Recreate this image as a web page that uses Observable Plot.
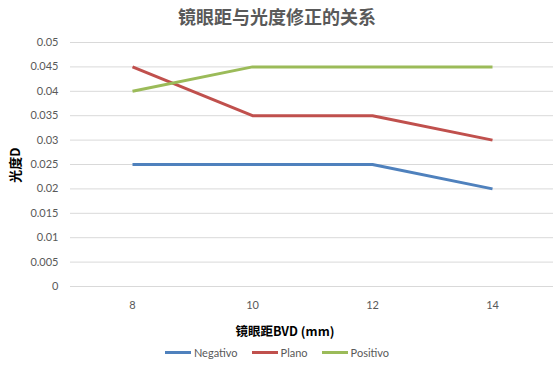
<!DOCTYPE html>
<html>
<head>
<meta charset="utf-8">
<script src="https://cdn.jsdelivr.net/npm/d3@7"></script>
<script src="https://cdn.jsdelivr.net/npm/@observablehq/plot@0.6"></script>
<style>
  body { margin: 0; background: #fff; width: 554px; overflow: hidden; font-family: Lato, "Noto Sans CJK SC", sans-serif; position: relative; }
  #title { height: 32px; line-height: 32px; text-align: center; font-size: 18px; font-weight: bold; color: #595959; font-family: "Noto Sans CJK SC", sans-serif; }
  #legend { height: 25px; display: flex; justify-content: center; align-items: center; font-size: 11px; color: #595959; font-family: Lato, sans-serif; }
  .item { display: flex; align-items: center; margin: 0 7px; }
  .sw { width: 26px; height: 3px; margin-right: 3px; }
  #ylabel { position: absolute; left: 14px; top: 165px; transform: translate(-50%, -50%) rotate(-90deg); white-space: nowrap; font-size: 13px; font-weight: bold; color: #000; font-family: "Noto Sans CJK SC", sans-serif; line-height: 1; }
</style>
</head>
<body>
<div id="title">镜眼距与光度修正的关系</div>
<div id="chart"></div>
<div id="legend"></div>
<div id="ylabel">光度D</div>
<script>
const bvd = [8, 10, 12, 14];
const series = ["Negativo", "Plano", "Positivo"];
const colors = ["#4F81BD", "#C0504D", "#9BBB59"];
const negativo = [0.025, 0.025, 0.025, 0.02];
const plano = [0.045, 0.035, 0.035, 0.03];
const positivo = [0.04, 0.045, 0.045, 0.045];
const yTicks = [0, 0.005, 0.01, 0.015, 0.02, 0.025, 0.03, 0.035, 0.04, 0.045, 0.05];

const values = [negativo, plano, positivo];
const data = [];
series.forEach((s, i) => bvd.forEach((x, j) => data.push({series: s, x, y: values[i][j]})));

const chart = Plot.plot({
  width: 554,
  height: 308,
  marginTop: 10,
  marginBottom: 54,
  marginLeft: 70,
  marginRight: 1,
  style: { fontFamily: "Lato, sans-serif", fontSize: "11px", color: "#595959", background: "#fff" },
  x: { type: "point", domain: bvd, padding: 0.5, label: null },
  y: { domain: [0, 0.05], label: null },
  color: { domain: series, range: colors },
  marks: [
    Plot.gridY(yTicks, { stroke: "#d9d9d9", strokeOpacity: 1, strokeWidth: 1 }),
    Plot.axisY(yTicks, { tickSize: 0, tickPadding: 12, tickFormat: d => String(+d.toFixed(3)), fill: "#595959", fontSize: 11 }),
    Plot.axisX(bvd, { tickSize: 0, tickPadding: 15, fill: "#595959", fontSize: 11 }),
    Plot.line(data, { x: "x", y: "y", z: "series", stroke: "series", strokeWidth: 3, strokeLinecap: "butt", strokeLinejoin: "round" }),
    Plot.text(["镜眼距BVD (mm)"], { frameAnchor: "bottom-left", dx: 165, dy: 49, fontSize: 12.5, fontWeight: "bold", fill: "#000", fontFamily: "'Noto Sans CJK SC', sans-serif" })
  ]
});
document.getElementById("chart").appendChild(chart);

const legend = document.getElementById("legend");
series.forEach((s, i) => {
  const it = document.createElement("div");
  it.className = "item";
  const sw = document.createElement("div");
  sw.className = "sw";
  sw.style.background = colors[i];
  const t = document.createElement("span");
  t.textContent = s;
  it.appendChild(sw); it.appendChild(t);
  legend.appendChild(it);
});
</script>
</body>
</html>
